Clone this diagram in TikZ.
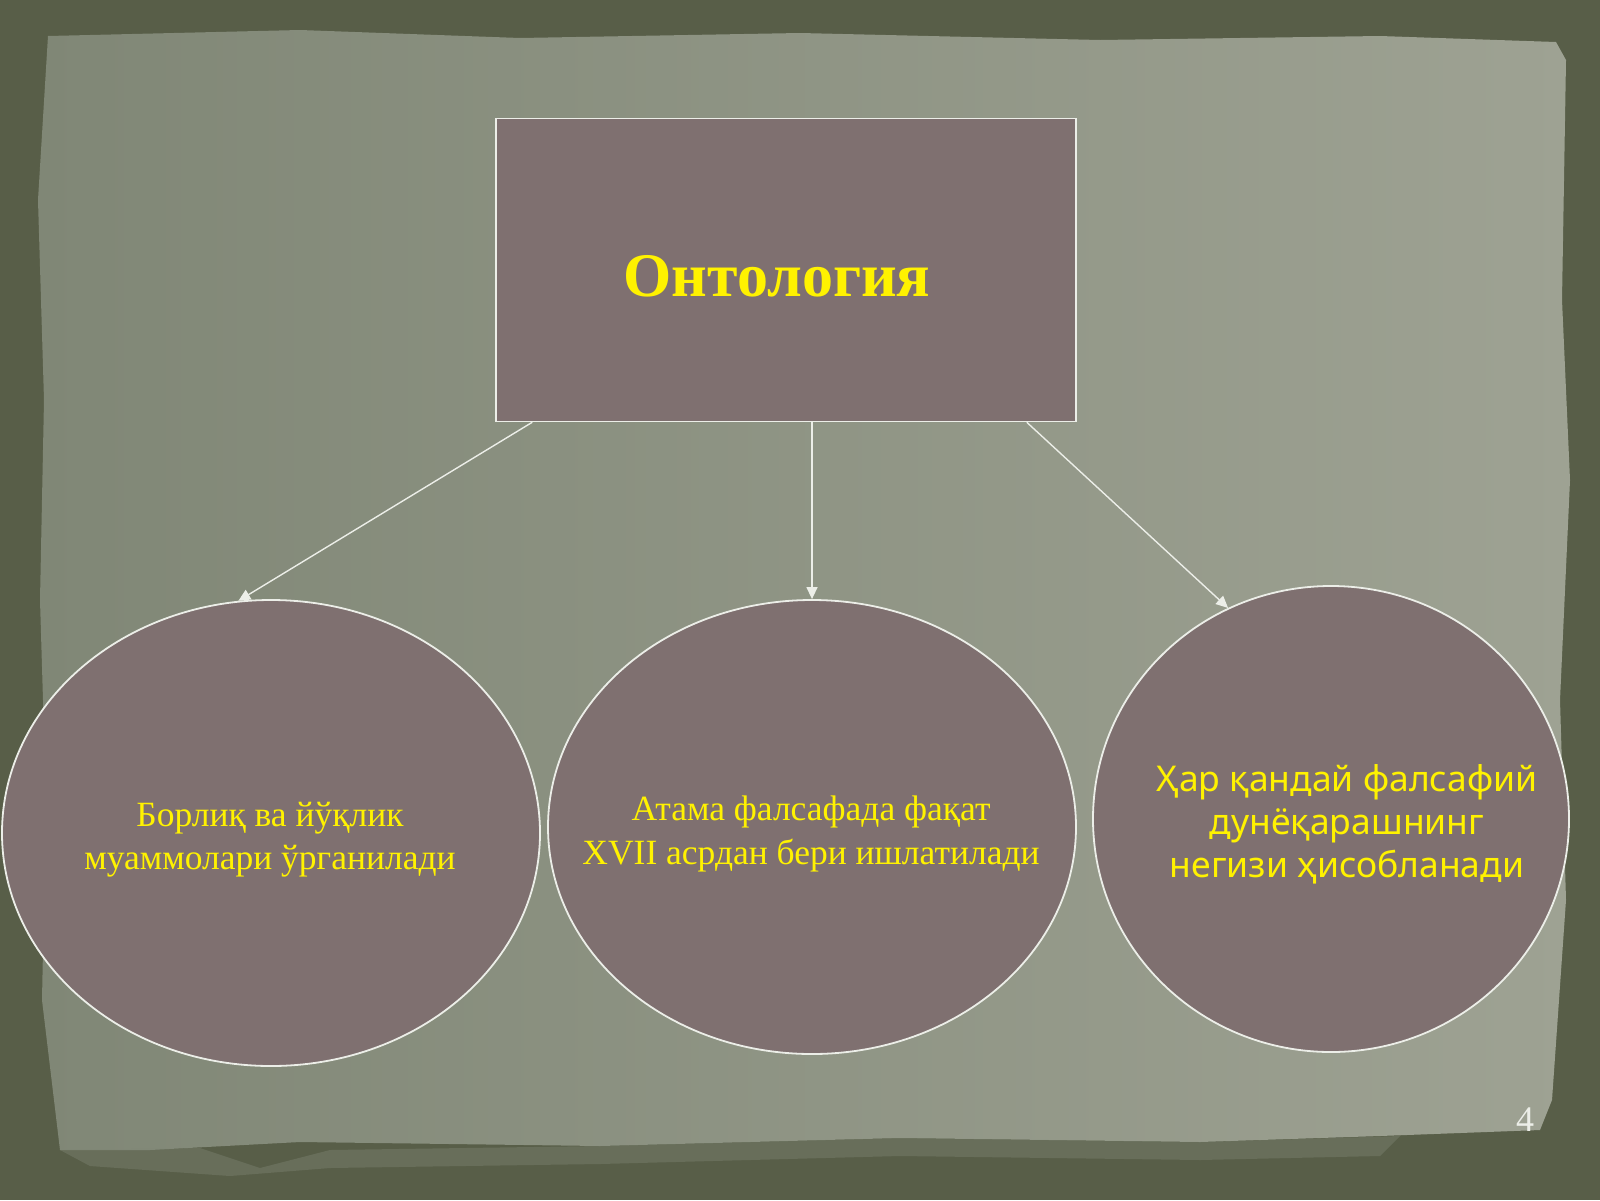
\documentclass[tikz,border=0pt]{standalone}
\usepackage{fontspec}
\setmainfont{Liberation Serif}
\newfontfamily\uzsans{Noto Sans}
\usepackage{xcolor}
\usetikzlibrary{shapes.geometric,arrows.meta}
\definecolor{frame}{RGB}{88,94,72}
\definecolor{paperdark}{RGB}{128,135,118}
\definecolor{paperlight}{RGB}{158,162,147}
\definecolor{mauve}{RGB}{127,112,112}
\definecolor{linewhite}{RGB}{236,238,232}

\begin{document}
\begin{tikzpicture}[x=1pt,y=-1pt,
 block/.style={draw=linewhite, line width=1.5pt, fill=mauve, minimum width=580pt, minimum height=303pt, inner sep=0pt},
 oval/.style={ellipse, draw=linewhite, line width=1.8pt, fill=mauve, inner sep=0pt},
 caption/.style={align=center, text=yellow, inner sep=0pt},
 link/.style={draw=linewhite, line width=1.4pt, -{Triangle[length=12pt,width=11pt]}}]
\useasboundingbox (0,0) rectangle (1600,1200);
\fill[frame] (0,0) rectangle (1600,1200);
\shade[left color=paperdark, right color=paperlight]
 (48,36) -- (300,30) -- (520,38) -- (800,33) -- (1100,40) -- (1380,36) -- (1556,42)
 -- (1566,60) -- (1562,300) -- (1570,480) -- (1560,700) -- (1566,900) -- (1552,1100) -- (1540,1130)
 -- (1380,1136) -- (1200,1142) -- (900,1138) -- (600,1146) -- (300,1142) -- (150,1150) -- (60,1150)
 -- (42,1000) -- (46,800) -- (40,600) -- (44,400) -- (38,200) -- cycle;
\fill[paperdark, opacity=.4]
 (60,1150) -- (200,1148) -- (260,1168) -- (330,1150) -- (600,1146) -- (900,1138) -- (1200,1142) -- (1400,1136)
 -- (1380,1156) -- (1200,1160) -- (900,1156) -- (600,1164) -- (330,1168) -- (230,1176) -- (90,1166) -- cycle;

\node[block] (onto) at (786,270) {};
\node[text=yellow, font=\fontsize{62}{72}\selectfont\bfseries] (ontotext) at (777,276) {Онтология};

\node[oval, minimum width=538pt, minimum height=466pt] (borliq) at (271,833) {};
\node[oval, minimum width=528pt, minimum height=454pt] (atama) at (812,827) {};
\node[oval, minimum width=476pt, minimum height=466pt] (falsafa) at (1331,819) {};

\node[caption, font=\fontsize{35.5}{43}\selectfont] (borliqtext) at (270,840)
 {Борлиқ ва йўқлик\\муаммолари ўрганилади};
\node[caption, font=\fontsize{35.5}{44}\selectfont] (atamatext) at (811,834)
 {Атама фалсафада фақат\\XVII асрдан бери ишлатилади};
\node[caption, font=\uzsans\fontsize{35.5}{43}\selectfont] (falsafatext) at (1347,824)
 {Ҳар қандай фалсафий\\ дунёқарашнинг\\ негизи ҳисобланади};

\draw[link] ([xshift=37pt]onto.south west) -- (borliq.98);
\draw[link] ([xshift=26pt]onto.south) -- (atama.north);
\draw[link] ([xshift=-50pt]onto.south east) -- (falsafa.116);

\node[text=linewhite, font=\fontsize{36}{40}\selectfont] (page) at (1525,1120) {4};
\end{tikzpicture}
\end{document}
